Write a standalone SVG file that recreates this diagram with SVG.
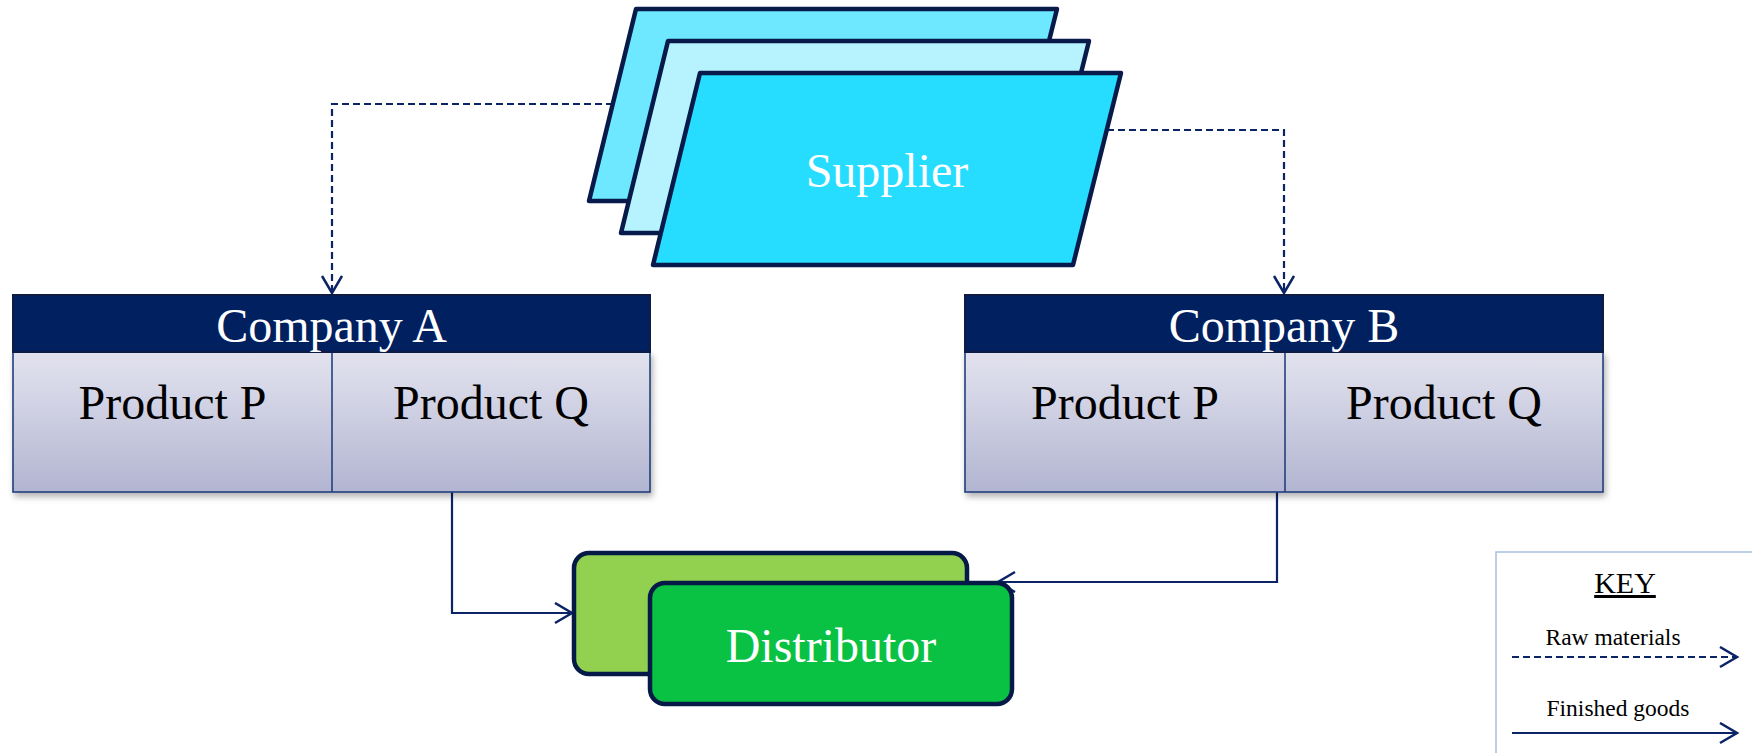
<svg xmlns="http://www.w3.org/2000/svg" width="1752" height="753" viewBox="0 0 1752 753">
  <style>
    .para { stroke: #071a4a; stroke-width: 4.5; stroke-linejoin: round; }
    .hdr { fill: #002060; stroke: #0d1b45; stroke-width: 2; }
    .body { fill: url(#bodyGrad); stroke: #24407e; stroke-width: 1.6; }
    .div { stroke: #24407e; stroke-width: 1.6; }
    .dist { stroke: #061a47; stroke-width: 4.5; }
    .serif { font-family: "Liberation Serif", "Times New Roman", serif; text-anchor: middle; }
    .big { font-size: 48px; }
    .white { fill: #ffffff; }
    .black { fill: #000000; }
    .dash { fill: none; stroke: #0b2466; stroke-width: 2.2; stroke-dasharray: 7 4; }
    .solid { fill: none; stroke: #0b2466; stroke-width: 2.2; }
  </style>
  <defs>
    <linearGradient id="bodyGrad" x1="0" y1="0" x2="0" y2="1">
      <stop offset="0" stop-color="#e3e3ef"/>
      <stop offset="1" stop-color="#b2b5d1"/>
    </linearGradient>
    <filter id="shadow" x="-5%" y="-10%" width="110%" height="130%">
      <feDropShadow dx="2" dy="4" stdDeviation="3" flood-color="#000" flood-opacity="0.3"/>
    </filter>
    <marker id="arrow" markerUnits="userSpaceOnUse" markerWidth="22" markerHeight="24" refX="18" refY="11" orient="auto" viewBox="0 0 22 24">
      <path d="M1,1 L18,11 L1,21" fill="none" stroke="#0b2466" stroke-width="2.5"/>
    </marker>
  </defs>

  <rect width="1752" height="753" fill="#ffffff"/>

  <g id="connectors">
    <path class="dash" d="M613,104 H332 V293" marker-end="url(#arrow)"/>
    <path class="dash" d="M1107,130 H1284 V293" marker-end="url(#arrow)"/>
    <path class="solid" d="M452,492 V613 H572" marker-end="url(#arrow)"/>
    <path class="solid" d="M1277,492 V582 H998" marker-end="url(#arrow)"/>
  </g>

  <g id="supplier">
    <polygon class="para" fill="#6de8ff" points="636,9 1057,9 1009,201 589,201"/>
    <polygon class="para" fill="#b6f3ff" points="668,41 1089,41 1041,233 621,233"/>
    <polygon class="para" fill="#27ddff" points="700,73 1121,73 1073,265 653,265"/>
    <text class="serif big white" x="887" y="187">Supplier</text>
  </g>

  <g id="companyA">
    <rect class="body" x="13" y="352" width="637" height="140" filter="url(#shadow)"/>
    <line class="div" x1="332" y1="352" x2="332" y2="492"/>
    <rect class="hdr" x="13" y="295" width="637" height="57"/>
    <text class="serif big white" x="331.5" y="342">Company A</text>
    <text class="serif big black" x="172.5" y="419">Product P</text>
    <text class="serif big black" x="491" y="419">Product Q</text>
  </g>

  <g id="companyB">
    <rect class="body" x="965" y="352" width="638" height="140" filter="url(#shadow)"/>
    <line class="div" x1="1285" y1="352" x2="1285" y2="492"/>
    <rect class="hdr" x="965" y="295" width="638" height="57"/>
    <text class="serif big white" x="1284" y="342">Company B</text>
    <text class="serif big black" x="1125" y="419">Product P</text>
    <text class="serif big black" x="1444" y="419">Product Q</text>
  </g>

  <g id="distributor">
    <rect class="dist" x="574" y="553" width="393" height="121" rx="15" fill="#92d050"/>
    <rect class="dist" x="650" y="583" width="362" height="121" rx="15" fill="#09c244"/>
    <text class="serif big white" x="831" y="662">Distributor</text>
  </g>

  <g id="key">
    <rect x="1496" y="552" width="270" height="220" fill="#ffffff" stroke="#a8bde0" stroke-width="1.5"/>
    <text class="serif black" x="1625" y="593" font-size="30" text-decoration="underline">KEY</text>
    <text class="serif black" x="1613" y="645" font-size="23.5">Raw materials</text>
    <path class="dash" d="M1512,657 H1737" marker-end="url(#arrow)"/>
    <text class="serif black" x="1618" y="716" font-size="23.5">Finished goods</text>
    <path class="solid" d="M1512,733 H1737" marker-end="url(#arrow)"/>
  </g>
</svg>
